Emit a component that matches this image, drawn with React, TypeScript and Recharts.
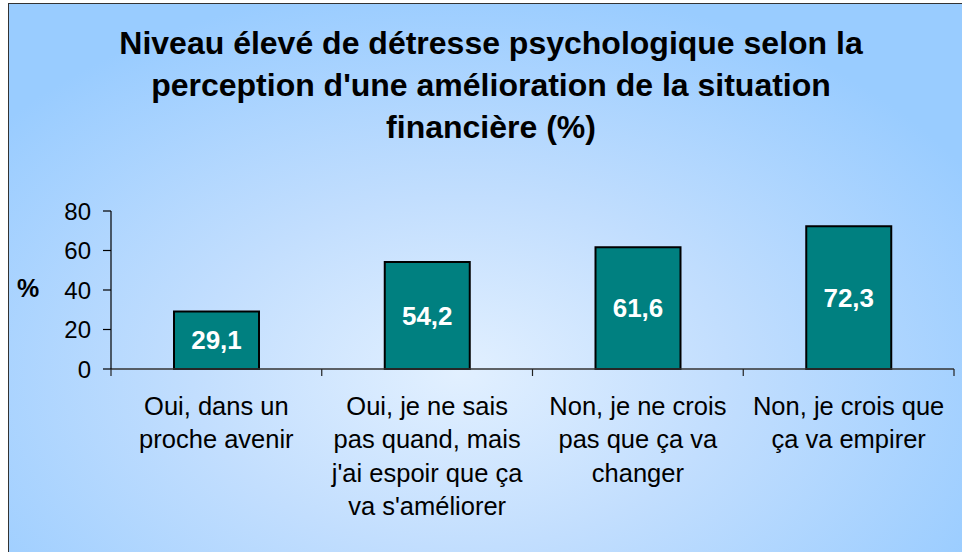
import { BarChart, Bar, XAxis, YAxis, LabelList } from 'recharts'

const categories = [
  'Oui, dans un\nproche avenir',
  "Oui, je ne sais\npas quand, mais\nj'ai espoir que ça\nva s'améliorer",
  'Non, je ne crois\npas que ça va\nchanger',
  'Non, je crois que\nça va empirer',
]
const values = [29.1, 54.2, 61.6, 72.3]
const yTicks = [0, 20, 40, 60, 80]
const titleLines = [
  'Niveau élevé de détresse psychologique selon la',
  "perception d'une amélioration de la situation",
  'financière (%)',
]

const data = categories.map((name, i) => ({ name, value: values[i] }))

const CHART_W = 953
const CHART_H = 548
const X_AXIS_H = 20
const MARGIN = { top: 207, right: 8, bottom: 163, left: 42 }
const Y_AXIS_W = 60
const PLOT_W = CHART_W - MARGIN.left - MARGIN.right - Y_AXIS_W

const FONT = '"Liberation Sans", Arial, sans-serif'

function CategoryTick(props: any) {
  const { x, y, payload, index } = props
  const band = PLOT_W / categories.length
  const lines = String(payload.value).split('\n')
  const left = x - band / 2
  return (
    <g>
      <line x1={left} x2={left} y1={y} y2={y + 7} stroke="#222" strokeWidth={1.2} />
      {index === categories.length - 1 && (
        <line x1={x + band / 2} x2={x + band / 2} y1={y} y2={y + 7} stroke="#222" strokeWidth={1.2} />
      )}
      <text x={x} y={y + 46} textAnchor="middle" fontSize={25.5} fill="#000" fontFamily={FONT}>
        {lines.map((l, i) => (
          <tspan key={i} x={x} dy={i === 0 ? 0 : 33.3}>
            {l}
          </tspan>
        ))}
      </text>
    </g>
  )
}

export default function App() {
  return (
    <div
      style={{
        position: 'absolute',
        left: 8,
        top: 3,
        width: 960,
        height: 560,
        boxSizing: 'border-box',
        border: '1px solid #333',
        overflow: 'hidden',
        fontFamily: FONT,
        background: 'radial-gradient(ellipse 62% 70% at 47% 66%, #e2f0ff 0%, #c2defe 45%, #99ccff 100%)',
      }}
    >
      <div
        style={{
          position: 'absolute',
          left: 32,
          top: 18,
          width: 900,
          textAlign: 'center',
          fontSize: 32,
          fontWeight: 'bold',
          lineHeight: '42px',
          color: '#000',
          whiteSpace: 'nowrap',
        }}
      >
        {titleLines.map((t, i) => (
          <div key={i}>{t}</div>
        ))}
      </div>
      <div
        style={{
          position: 'absolute',
          left: 8,
          top: 270,
          fontSize: 25,
          fontWeight: 'bold',
          color: '#000',
        }}
      >
        %
      </div>
      <div style={{ position: 'absolute', left: 0, top: 0 }}>
        <BarChart width={CHART_W} height={CHART_H} data={data} margin={MARGIN}>
          <XAxis
            dataKey="name"
            interval={0}
            tickSize={0}
            tickMargin={0}
            tickLine={false}
            axisLine={{ stroke: '#333', strokeWidth: 1.5 }}
            tick={<CategoryTick />}
            height={X_AXIS_H}
          />
          <YAxis
            width={Y_AXIS_W}
            domain={[0, 80]}
            ticks={yTicks}
            interval={0}
            tickSize={8}
            tickMargin={12}
            axisLine={{ stroke: '#000', strokeWidth: 1.2 }}
            tickLine={{ stroke: '#000', strokeWidth: 1.2 }}
            tick={{ fontSize: 24, fill: '#000', fontFamily: FONT }}
          />
          <Bar
            dataKey="value"
            fill="#008080"
            stroke="#000"
            strokeWidth={2}
            barSize={85}
            isAnimationActive={false}
          >
            <LabelList
              dataKey="value"
              position="center"
              formatter={(v: any) => String(v).replace('.', ',')}
              fill="#fff"
              fontSize={26}
              fontWeight="bold"
              fontFamily={FONT}
            />
          </Bar>
        </BarChart>
      </div>
    </div>
  )
}
